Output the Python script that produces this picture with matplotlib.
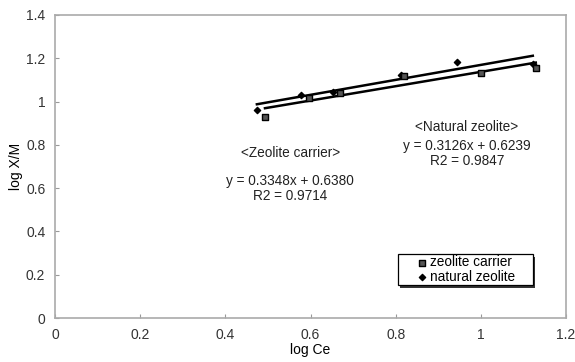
import numpy as np
import matplotlib.pyplot as plt
from matplotlib.patches import Rectangle

plt.rcParams['font.family'] = ['Liberation Sans', 'DejaVu Sans']

# data
carrier_x = [0.493, 0.596, 0.669, 0.819, 1.000, 1.129]
carrier_y = [0.930, 1.018, 1.040, 1.116, 1.134, 1.157]
natural_x = [0.474, 0.577, 0.653, 0.812, 0.944, 1.122]
natural_y = [0.963, 1.032, 1.046, 1.125, 1.185, 1.175]

x_ticks = [0, 0.2, 0.4, 0.6, 0.8, 1, 1.2]
y_ticks = [0, 0.2, 0.4, 0.6, 0.8, 1, 1.2, 1.4]

fig = plt.figure(figsize=(5.75, 3.62), dpi=100)
ax = fig.add_axes([0.0957, 0.1215, 0.8887, 0.8371])

# trend lines
for xs, ys in [(carrier_x, carrier_y), (natural_x, natural_y)]:
    k, b = np.polyfit(xs, ys, 1)
    xx = np.array([min(xs), max(xs)])
    ax.plot(xx, k * xx + b, color='black', linewidth=1.8, zorder=2)

ax.scatter(natural_x, natural_y, marker='D', s=10, color='black',
           label='natural zeolite', zorder=3)
ax.scatter(carrier_x, carrier_y, marker='s', s=22, color='#555555',
           edgecolors='black', linewidths=1, label='zeolite carrier', zorder=4)

# equation labels
txt = dict(ha='center', va='center', fontsize=9.8, color='#222222')
ax.text(0.552, 0.764, '<Zeolite carrier>', **txt)
ax.text(0.552, 0.634, 'y = 0.3348x + 0.6380', **txt)
ax.text(0.552, 0.565, 'R2 = 0.9714', **txt)
ax.text(0.967, 0.884, '<Natural zeolite>', **txt)
ax.text(0.967, 0.796, 'y = 0.3126x + 0.6239', **txt)
ax.text(0.967, 0.727, 'R2 = 0.9847', **txt)

ax.set_xlim(0, 1.2)
ax.set_ylim(0, 1.4)
ax.set_xticks(x_ticks)
ax.set_yticks(y_ticks)
ax.set_xticklabels(['0', '0.2', '0.4', '0.6', '0.8', '1', '1.2'])
ax.set_yticklabels(['0', '0.2', '0.4', '0.6', '0.8', '1', '1.2', '1.4'])
ax.tick_params(direction='in', length=3, color='#999999', labelsize=10,
               labelcolor='#333333', pad=7)
for s in ax.spines.values():
    s.set_color('#aaaaaa')
    s.set_linewidth(1.2)

ax.set_xlabel('log Ce', fontsize=10, labelpad=1)
ax.set_ylabel('log X/M', fontsize=10, labelpad=2)

# legend box with shadow, drawn by hand
ax.add_patch(Rectangle((0.675, 0.100), 0.264, 0.102, transform=ax.transAxes,
                       facecolor='#333333', edgecolor='none', zorder=5))
ax.add_patch(Rectangle((0.671, 0.109), 0.264, 0.102, transform=ax.transAxes,
                       facecolor='white', edgecolor='black', linewidth=0.9,
                       zorder=6))

handles, labels = ax.get_legend_handles_labels()
leg = ax.legend(handles[::-1], labels[::-1], loc='center',
                bbox_to_anchor=(0.803, 0.160), fontsize=9.8, frameon=False,
                handletextpad=0.1, handlelength=1.0, borderpad=0.0,
                labelspacing=0.05)
leg.set_zorder(7)

plt.savefig('out.png', dpi=100)
